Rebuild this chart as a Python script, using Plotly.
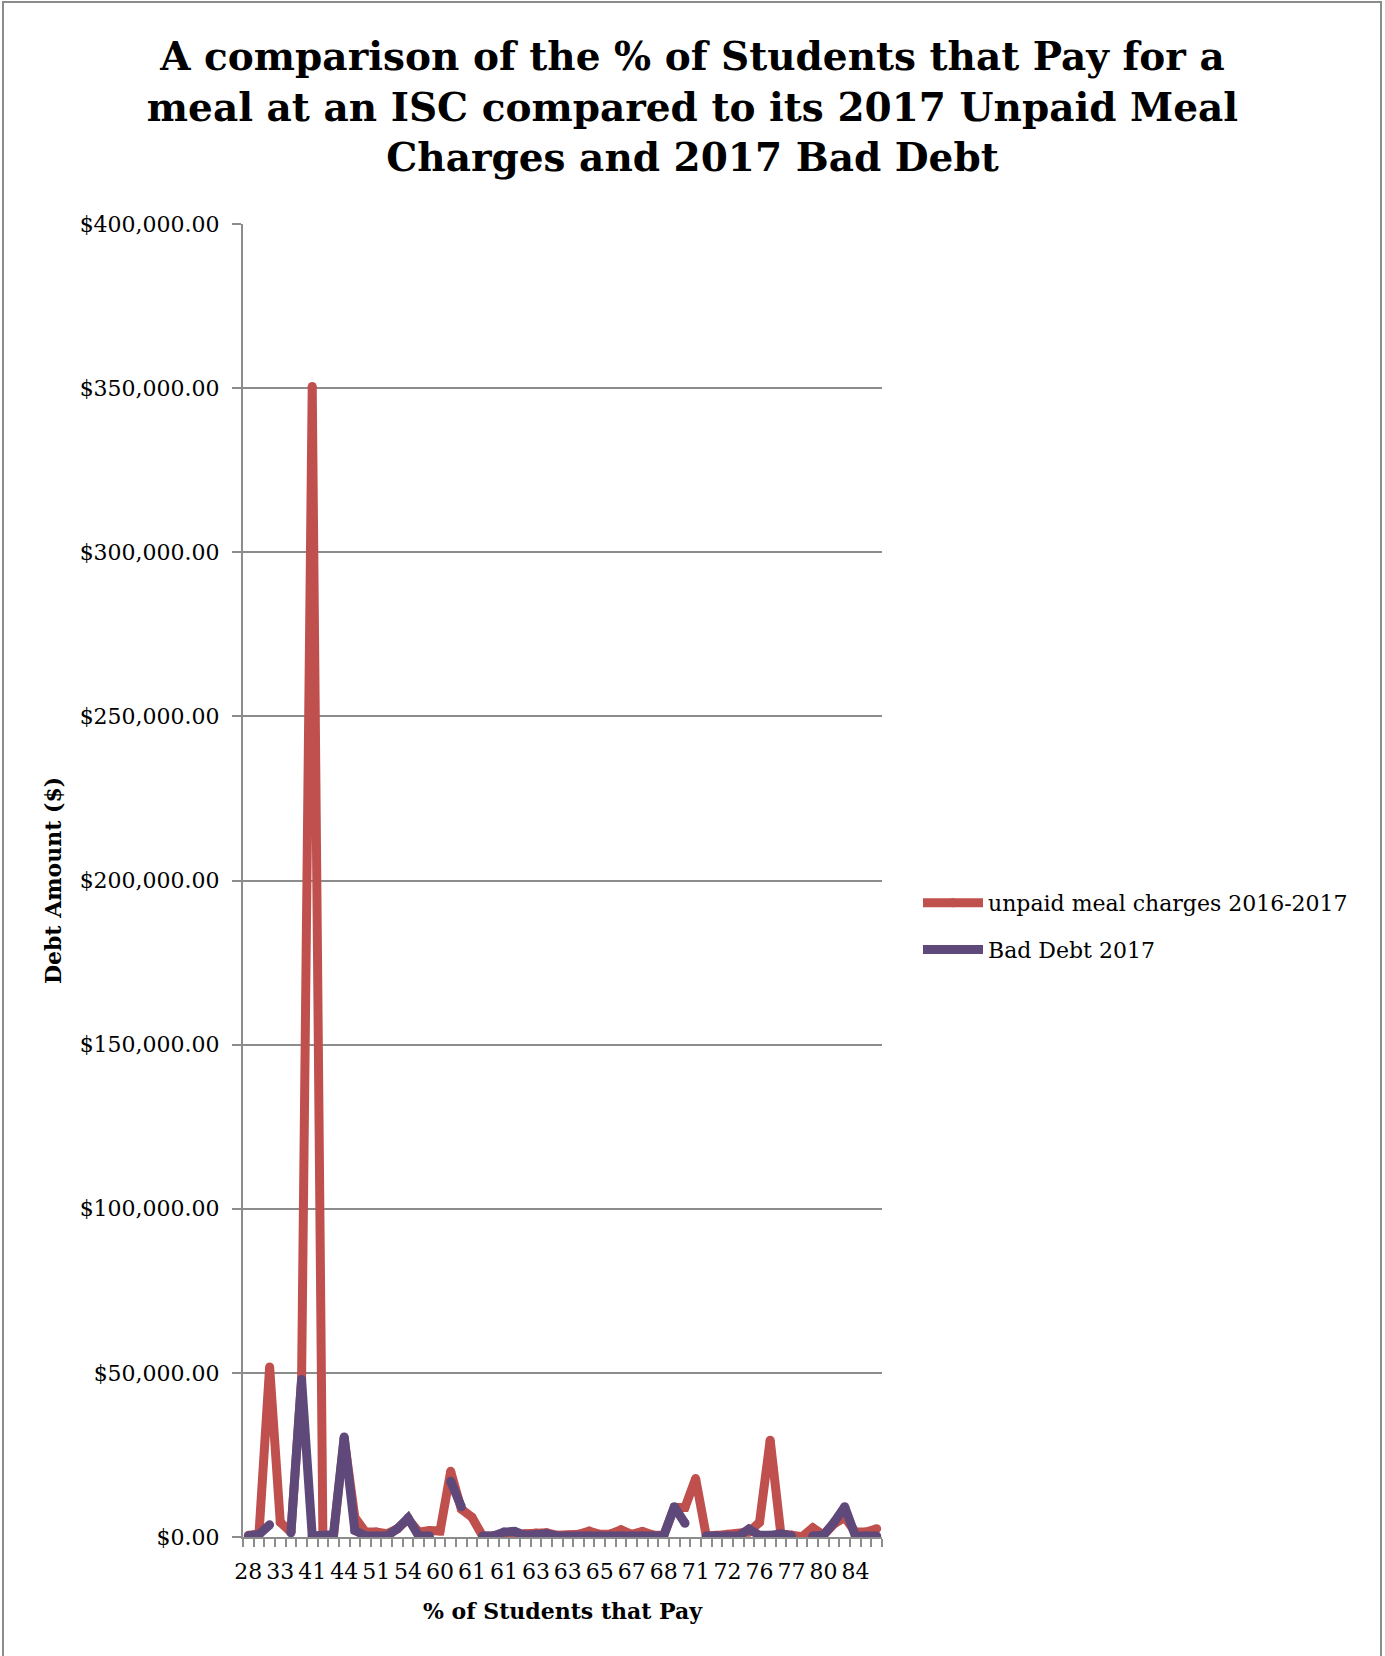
import plotly.graph_objects as go

# Category labels (% of students that pay), every third shown on the axis
categories = [28, 30, 32, 33, 35, 38, 41, 42, 43, 44, 47, 49, 51, 52, 53, 54, 56, 58, 60, 60,
              61, 61, 61, 61, 61, 62, 62, 63, 63, 63, 63, 64, 65, 65, 66, 67, 67, 68, 68, 68,
              69, 70, 71, 71, 72, 72, 73, 74, 76, 76, 77, 77, 78, 79, 80, 82, 84, 84, 85, 88]

unpaid_meal_charges = [500, 1000, 51800, 4500, 1500, 48000, 350500, 300, 500, 30000,
                       6000, 1500, 1500, 1000, 2500, 5500, 1500, 2000, 1800, 20000,
                       8500, 6000, 300, 300, 300, 300, 1000, 1200, 1300, 500,
                       500, 800, 1800, 800, 900, 2200, 800, 1700, 600, 500,
                       9000, 9000, 17800, 300, 500, 800, 700, 1500, 4500, 29500,
                       1000, 600, 100, 2800, 600, 4000, 6000, 1500, 1500, 2500]

bad_debt = [300, 800, 3700, None, 1300, 48000, 300, 300, 800, 30500,
            2000, 400, 300, 300, 2500, 5800, 300, 300, None, 17000,
            9200, None, 300, 300, 1500, 1700, 500, 500, 1000, 300,
            300, 300, 300, 300, 300, 300, 300, 300, 300, 300,
            9200, 4200, None, 300, 300, 300, 300, 2400, 500, 500,
            1000, 300, None, 300, 500, 4500, 9200, 300, 300, 300]

label_step = 3
x_idx = list(range(len(categories)))
tick_idx = x_idx[::label_step]
tick_text = [str(categories[i]) for i in tick_idx]

FONT = "DejaVu Serif"
GRID = "#8c8c8c"
LW = 9

fig = go.Figure()
fig.add_trace(go.Scatter(
    x=x_idx, y=unpaid_meal_charges, mode="lines+markers",
    name="unpaid meal charges 2016-2017", legendgroup="a",
    line=dict(color="#C0504D", width=LW),
    marker=dict(color="#C0504D", size=LW, line=dict(width=0)),
    connectgaps=False))
fig.add_trace(go.Scatter(
    x=x_idx, y=bad_debt, mode="lines+markers",
    name="Bad Debt 2017", legendgroup="b",
    line=dict(color="#5F497A", width=LW),
    marker=dict(color="#5F497A", size=LW, line=dict(width=0)),
    connectgaps=False))

W, H = 1385, 1656
L, R, T, B = 243, 882, 224, 1537
pw, ph = R - L, B - T

def px(x):
    return (x - L) / pw

def py(y):
    return (B - y) / ph

fig.update_layout(
    width=W, height=H,
    margin=dict(l=L, r=W - R, t=T, b=H - B, pad=0),
    paper_bgcolor="white", plot_bgcolor="white",
    font=dict(family=FONT, size=22, color="black"),
    title=dict(
        text="A comparison of the % of Students that Pay for a<br>meal at an ISC compared to its 2017 Unpaid Meal<br>Charges and 2017 Bad Debt",
        font=dict(family=FONT, size=39, color="black", weight="bold"),
        x=0.5, xanchor="center", xref="container",
        y=1 - 70 / H, yanchor="top", yref="container"),
    showlegend=True,
    legend=dict(
        x=px(918), y=py(882), xanchor="left", yanchor="top",
        itemwidth=60,
        font=dict(family=FONT, size=22, color="black"),
        tracegroupgap=15, bgcolor="rgba(0,0,0,0)"),
    xaxis=dict(
        range=[-0.5, len(categories) - 0.5],
        tickmode="array", tickvals=tick_idx, ticktext=tick_text,
        ticks="outside", ticklen=14, tickcolor="rgba(0,0,0,0)",
        tickfont=dict(family=FONT, size=22, color="black"),
        showgrid=False, zeroline=False,
        showline=True, linecolor=GRID, linewidth=2,
        minor=dict(tickmode="linear", tick0=-0.5, dtick=1, ticks="outside",
                   ticklen=8, tickcolor=GRID, tickwidth=2, showgrid=False),
        title=dict(text="<b>% of Students that Pay</b>", standoff=20,
                   font=dict(family=FONT, size=22, color="black"))),
    yaxis=dict(
        range=[0, 400000], dtick=50000, tick0=0,
        tickprefix="$", tickformat=",.2f",
        ticks="outside", ticklen=9, tickcolor=GRID, tickwidth=2,
        ticklabelstandoff=8,
        tickfont=dict(family=FONT, size=22, color="black"),
        showgrid=True, gridcolor=GRID, gridwidth=2,
        zeroline=False, showline=True, linecolor=GRID, linewidth=2,
        title=dict(text="<b>Debt Amount ($)</b>", standoff=12,
                   font=dict(family=FONT, size=22, color="black"))),
    shapes=[dict(type="rect", xref="paper", yref="paper",
                 x0=px(3), x1=px(1381), y0=py(1720), y1=py(2),
                 line=dict(color="#8c8c8c", width=2), fillcolor="rgba(0,0,0,0)",
                 layer="below")],
)

fig.write_html("out.html", config={"displayModeBar": False},
               post_script="document.body.style.margin='0';")
